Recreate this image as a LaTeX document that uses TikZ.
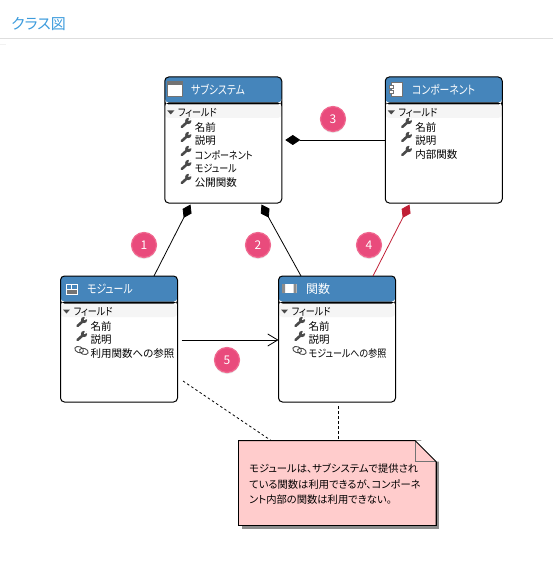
\documentclass[tikz,border=0pt]{standalone}
\usepackage{fontspec}
\setmainfont{Noto Sans CJK JP}[RawFeature=+palt]
\newfontfamily\kanafont{Noto Sans CJK JP}[RawFeature=+palt, FakeStretch=0.86]
\newfontfamily\titlekana{Noto Sans CJK JP}[RawFeature=+palt, FakeStretch=0.82]
\usetikzlibrary{positioning, arrows.meta, shadows, calc}
\definecolor{HeadBlue}{HTML}{4585BB}
\definecolor{TitleBlue}{HTML}{3C9BDC}
\definecolor{BadgePink}{HTML}{E94B7C}
\definecolor{BadgeRing}{HTML}{F0688F}
\definecolor{NotePink}{HTML}{FFCCCC}
\definecolor{IconGray}{HTML}{4A4A4A}
\definecolor{RelRed}{HTML}{C01F35}

\begin{document}
\begin{tikzpicture}[
  x=1pt, y=-1pt,
  classbox/.style={rectangle, rounded corners=4pt, draw=black, line width=1pt, fill=white,
                   minimum width=117pt, minimum height=126pt, inner sep=0pt, outer sep=0pt,
                   path picture={
                     \fill[HeadBlue] (path picture bounding box.north west) rectangle ([yshift=-25.5pt]path picture bounding box.north east);
                     \fill[black] ([yshift=-25.5pt]path picture bounding box.north west) rectangle ([yshift=-27.5pt]path picture bounding box.north east);
                     \fill[black!4] ([yshift=-28pt]path picture bounding box.north west) rectangle ([yshift=-41pt]path picture bounding box.north east);
                   }},
  classtitle/.style={anchor=west, text=white, font=\fontsize{12}{14}\selectfont, inner sep=0pt},
  field/.style={anchor=west, font=\fontsize{10.5}{12}\selectfont, inner sep=0pt},
  badge/.style={circle, draw=BadgeRing, line width=1.2pt, fill=BadgePink, minimum size=25pt, inner sep=0pt,
                text=white, font=\fontsize{12}{14}\selectfont,
                drop shadow={shadow xshift=0pt, shadow yshift=-1.5pt, opacity=0.2}},
  notebox/.style={rectangle, draw=black, line width=1pt, fill=NotePink, inner sep=0pt, outer sep=0pt,
                  minimum width=197.5pt, minimum height=85pt,
                  drop shadow={shadow xshift=3pt, shadow yshift=-3pt, opacity=1, fill=black!45}},
  notetext/.style={anchor=west, align=left, inner sep=0pt, font=\fontsize{10.3}{15.5}\selectfont},
  comp/.style={{Diamond[length=15pt,width=10pt]}-, line width=0.8pt},
  nav/.style={-{Straight Barb[length=10pt,width=12pt]}, line width=0.8pt},
  anchorline/.style={dash pattern=on 2.5pt off 2.5pt, line width=0.8pt},
  wrench/.pic={
    \draw[IconGray, line width=2.6pt, line cap=round] (-4,3.5) -- (1,-1);
    \fill[IconGray] (2.5,-2.5) circle (3.2);
    \fill[white] (2.5,-2.5) -- (6,-3.5) -- (3.5,-6.5) -- cycle;
  },
  chain/.pic={
    \draw[IconGray, line width=0.9pt, rotate=-20] (-2.5,0) ellipse (4.5 and 3);
    \draw[IconGray, line width=0.9pt, rotate=-20] (2.5,0) ellipse (4.5 and 3);
  }
]
\useasboundingbox (0,0) rectangle (553,561);

% page heading
\node[anchor=west, inner sep=0pt, text=TitleBlue, font=\fontsize{15}{18}\selectfont] (heading) at (11,24) {クラス図};
\draw[black!13] (0,38.5) -- (553,38.5);
\draw[black!5] (0,44.5) -- (6,44.5);

% classes
\node[classbox] (subsystem) at (223.25,140) {};
\node[classbox] (component) at (443.75,140) {};
\node[classbox] (module)    at (119,339)    {};
\node[classbox] (function)  at (337,339)    {};

\node[classtitle] (subsystem title) at (191,90)  {\titlekana サブシステム};
\node[classtitle] (component title) at (412,90)  {\titlekana コンポーネント};
\node[classtitle] (module title)    at (87,289)  {\titlekana モジュール};
\node[classtitle] (function title)  at (306,289) {関数};

% header icons
\draw[black!55, fill=white, line width=0.9pt] (167.5,81.5) rectangle (182.5,96.5);
\fill[black!55] (167.5,81.5) rectangle (182.5,85);
\draw[black!55, fill=white, line width=0.9pt] (391,82.5) rectangle (402,96);
\draw[black!55, fill=white, line width=0.8pt] (389,85) rectangle (393,88);
\draw[black!55, fill=white, line width=0.8pt] (389,90) rectangle (393,93);
\draw[white, line width=1pt] (66,284) rectangle (77,294);
\draw[white, line width=1pt] (71.5,284) -- (71.5,289) (66,289) -- (77,289);
\fill[black!55] (66.5,289.5) rectangle (76.5,293.5);
\fill[white] (282,284) rectangle (296.5,293);
\fill[black!45] (282,284) rectangle (285,293) (293.5,284) rectangle (296.5,293);

% field rows
\foreach \boxname/\rowlist in {
  subsystem/{名前/wrench,説明/wrench,\kanafont コンポーネント/wrench,\kanafont モジュール/wrench,公開関数/wrench},
  component/{名前/wrench,説明/wrench,内部関数/wrench},
  module/{名前/wrench,説明/wrench,利用関数への参照/chain},
  function/{名前/wrench,説明/wrench,\kanafont モジュールへの参照/chain}}
{
  \node[field] (\boxname group) at ([xshift=13pt,yshift=-36pt]\boxname.north west) {\kanafont フィールド};
  \fill[IconGray] ([xshift=2.5pt,yshift=-33.5pt]\boxname.north west) -- ([xshift=9.5pt,yshift=-33.5pt]\boxname.north west) -- ([xshift=6pt,yshift=-37.5pt]\boxname.north west) -- cycle;
  \foreach \rowtext/\rowicon [count=\i] in \rowlist {
    \node[field] (\boxname field \i) at ([xshift=30pt,yshift={-36pt-14pt*\i}]\boxname.north west) {\rowtext};
    \pic at ([xshift=21pt,yshift={-32.5pt-14pt*\i}]\boxname.north west) {\rowicon};
  }
}

% note
\node[notebox] (note) at (337.25,483) {};
\fill[white] ([xshift=-21pt]note.north east) -- ([xshift=4pt,yshift=1pt]note.north east) -- ([xshift=4pt,yshift=-21pt]note.north east) -- ([yshift=-21pt]note.north east) -- cycle;
\draw[black!55, line width=1pt] ([xshift=-21pt]note.north east) -- ([xshift=-21pt,yshift=-21pt]note.north east) -- ([yshift=-21pt]note.north east);
\draw[line width=1pt, line join=bevel] (note.north west) -- ([xshift=-21pt]note.north east) -- ([yshift=-21pt]note.north east) -- (note.south east);
\node[notetext] (note text) at ([xshift=10.5pt,yshift=-1.5pt]note.west) {モジュールは、サブシステムで提供され\\ている関数は利用できるが、コンポーネ\\ント内部の関数は利用できない。};

% relations
\draw[comp] ([xshift=-32.75pt,yshift=-1.5pt]subsystem.south) -- ([xshift=35pt]module.north);
\draw[comp] ([xshift=38.25pt,yshift=-1.5pt]subsystem.south) -- ([xshift=-36pt]function.north);
\draw[comp, RelRed] ([xshift=-34.25pt,yshift=-1.5pt]component.south) -- ([xshift=36pt]function.north);
\draw[comp, shorten <=3.5pt] (subsystem.east) -- (component.west);
\draw[nav] ([xshift=4pt,yshift=-1pt]module.east) -- ([yshift=-1pt]function.west);
\draw[anchorline] ([xshift=5.5pt,yshift=21pt]module.south east) -- ([xshift=32.5pt]note.north west);
\draw[anchorline] ([xshift=1pt,yshift=-4pt]function.south) -- ([xshift=0.75pt]note.north);

% numbers
\node[badge] (one)   at (144,245) {1};
\node[badge] (two)   at (258,245) {2};
\node[badge] (three) at (333,119) {3};
\node[badge] (four)  at (369,245) {4};
\node[badge] (five)  at (227,360) {5};
\end{tikzpicture}
\end{document}
